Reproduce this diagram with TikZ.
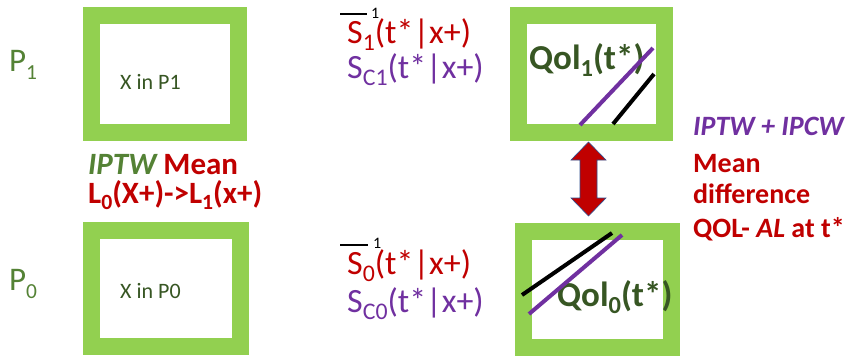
\documentclass[tikz,border=0pt]{standalone}
\usepackage{fontspec}
\usepackage{graphicx}
\setmainfont{Carlito}
\definecolor{boxgreen}{HTML}{92D050}
\definecolor{pgreen}{HTML}{548235}
\definecolor{dgreen}{HTML}{375623}
\definecolor{dred}{HTML}{C00000}
\definecolor{purp}{HTML}{7030A0}
\definecolor{arrowblue}{HTML}{2F4F8F}
\newcommand{\dn}[1]{\raisebox{-0.22em}{\scalebox{0.7}{#1}}}
\newcommand{\dnp}[1]{\raisebox{-0.27em}{\scalebox{0.65}{#1}}}
\begin{document}
\begin{tikzpicture}[x=1pt,y=-1pt,
  gbox/.style={draw=boxgreen, line width=17pt, inner sep=0pt, fill=white},
  lbl/.style={anchor=base west, inner sep=0pt},
  plab/.style={lbl, text=pgreen, font=\fontsize{33}{40}\selectfont},
  xlab/.style={lbl, text=dgreen, font=\fontsize{22}{26}\selectfont},
  midtxt/.style={lbl, font=\fontsize{34}{40}\selectfont},
  suptxt/.style={lbl, font=\fontsize{16}{18}\selectfont},
  boldtxt/.style={lbl, font=\bfseries\fontsize{31}{36}\selectfont},
  qtxt/.style={lbl, text=dgreen, font=\bfseries\fontsize{35}{40}\selectfont},
  rtxt/.style={lbl, text=dred, font=\bfseries\fontsize{28}{34}\selectfont},
  qline/.style={line width=4pt}]
\useasboundingbox (0,0) rectangle (850,356);
% boxes
\node[gbox, minimum width=147pt, minimum height=117pt] (b1) at (165,74) {};
\node[gbox, minimum width=149pt, minimum height=116pt] (b0) at (166,288.5) {};
\node[gbox, minimum width=146pt, minimum height=117pt] (q1) at (591.5,74) {};
\node[gbox, minimum width=148pt, minimum height=116pt] (q0) at (597.5,289.5) {};
% P labels
\node[plab] (p1) at (9,71) {P\dnp{1}};
\node[plab] (p0) at (9,290) {P\dnp{0}};
\node[xlab] (x1) at (120,89) {X in P1};
\node[xlab] (x0) at (120,298) {X in P0};
% left bold text
\node[boldtxt] (m1) at (88,174) {\textcolor{pgreen}{\itshape IPTW} \textcolor{dred}{Mean}};
\node[boldtxt, text=dred] (m2) at (88,203) {L\dn{0}(X+)->L\dn{1}(x+)};
% middle texts
\draw[black, line width=1.5pt] (340,14) -- (367,14);
\node[suptxt] (sup1) at (371,18) {1};
\node[midtxt, text=dred] (s1) at (347,43) {S\dn{1}(t*|x+)};
\node[midtxt, text=purp] (c1) at (347,78) {S\dn{C1}(t*|x+)};
\draw[black, line width=1.5pt] (340,245) -- (368,245);
\node[suptxt] (sup0) at (373,248) {1};
\node[midtxt, text=dred] (s0) at (347,274) {S\dn{0}(t*|x+)};
\node[midtxt, text=purp] (c0) at (347,312) {S\dn{C0}(t*|x+)};
% QoL texts
\node[qtxt] (ql1) at (529,69) {Qol\dn{1}(t*)};
\node[qtxt] (ql0) at (557,306) {Qol\dn{0}(t*)};
\draw[qline, purp] (580,125) -- (653,48);
\draw[qline, black] (613,124) -- (654,74);
\draw[qline, black] (522,295) -- (612,233);
\draw[qline, purp] (529,314) -- (622,235);
% double arrow
\draw[fill=dred, draw=arrowblue, line width=0.6pt, line join=miter]
  (588.5,142) -- (606,160) -- (597,160) -- (597,198) -- (606,198) -- (588.5,216)
  -- (571,198) -- (580,198) -- (580,160) -- (571,160) -- cycle;
% right text
\node[rtxt, text=purp] (r1) at (693,135) {\itshape IPTW + IPCW};
\node[rtxt] (r2) at (693,172) {Mean};
\node[rtxt] (r3) at (693,203) {difference};
\node[rtxt] (r4) at (693,237) {QOL- \textit{AL} at t*};
\end{tikzpicture}
\end{document}
